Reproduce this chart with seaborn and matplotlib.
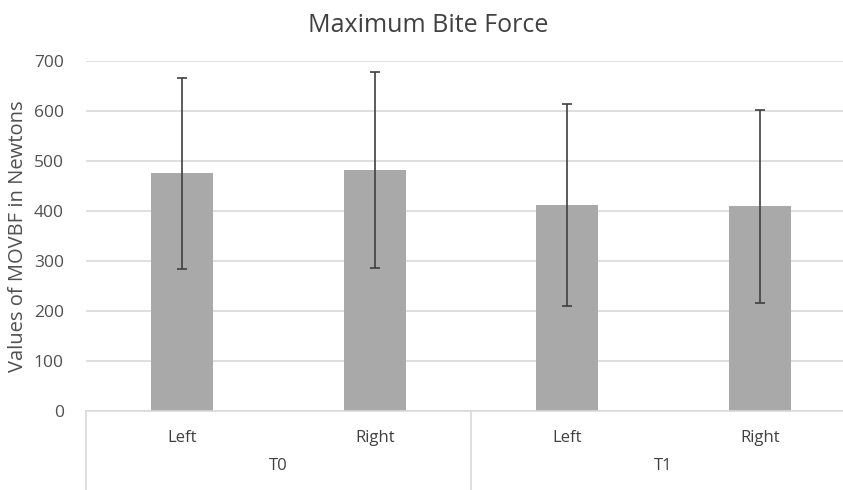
import matplotlib.pyplot as plt
import matplotlib.transforms as mtransforms
import pandas as pd
import seaborn as sns

# values
sides = ["Left", "Right", "Left", "Right"]
times = ["T0", "T0", "T1", "T1"]
means = [475, 482, 412, 409]
sds = [190, 196, 201, 192]
y_ticks = [0, 100, 200, 300, 400, 500, 600, 700]

df = pd.DataFrame({
    "bar": [f"{t} {s}" for t, s in zip(times, sides)],
    "side": sides,
    "time": times,
    "mean": means,
    "sd": sds,
})

sns.set_style("white")
plt.rcParams['font.family'] = ['Open Sans', 'DejaVu Sans']

W, H = 843, 490
fig = plt.figure(figsize=(W / 100, H / 100), dpi=100)
# plot area (the source image is cropped on the right)
ax = fig.add_axes([86 / W, (H - 411) / H, 770 / W, 350 / H])

sns.barplot(data=df, x="bar", y="mean", color="#a9a9a9", width=0.32,
            errorbar=None, saturation=1, linewidth=0, ax=ax, zorder=2)
ax.errorbar(range(len(df)), df["mean"], yerr=df["sd"], fmt="none",
            ecolor="#404040", elinewidth=1.2, capsize=3.5, capthick=1.2,
            zorder=3)

ax.set_xlim(-0.5, len(df) - 0.5)
ax.set_ylim(0, 700)
ax.set_yticks(y_ticks)
ax.tick_params(axis="y", length=0, pad=16, labelsize=12.5, labelcolor="#505050")
ax.grid(axis="y", color="#d9d9d9", linewidth=1.2, zorder=0)
for s in ["top", "right", "left"]:
    ax.spines[s].set_visible(False)
ax.spines["bottom"].set_color("#d9d9d9")
ax.spines["bottom"].set_linewidth(1.2)

# two-level category axis, drawn by hand
ax.set_xticks([])
ax.set_xlabel("")
trans = mtransforms.blended_transform_factory(ax.transData, ax.transAxes)
for i, s in enumerate(df["side"]):
    ax.text(i, -0.078, s, transform=trans, ha="center", va="center",
            fontsize=12, color="#404040")
for k, t in enumerate(["T0", "T1"]):
    ax.text(2 * k + 0.5, -0.158, t, transform=trans, ha="center", va="center",
            fontsize=12, color="#404040")
for xs in [-0.5, 1.5, 3.5]:
    ax.plot([xs, xs], [0, -0.23], transform=trans, color="#d9d9d9",
            linewidth=1.2, clip_on=False)

ax.set_ylabel("Values of MOVBF in Newtons", fontsize=14.5, color="#505050",
              labelpad=4)
fig.text(428 / W, 1 - 25 / H, "Maximum Bite Force", ha="center", va="center",
         fontsize=18, color="#404040")

fig.savefig("out.png", dpi=100)
